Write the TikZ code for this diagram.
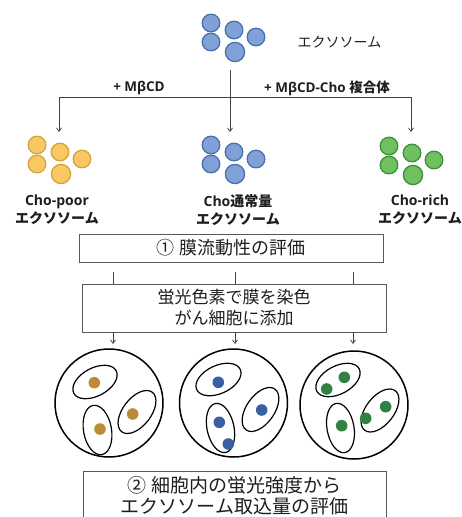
\documentclass[tikz,border=0pt]{standalone}
\usepackage{fontspec}
\setmainfont{Open Sans}
\newfontfamily\jp{Noto Sans CJK JP}
\usetikzlibrary{arrows.meta}

\definecolor{ylwfill}{HTML}{F8C962}
\definecolor{ylwdraw}{HTML}{D9A23E}
\definecolor{blufill}{HTML}{7FA1D7}
\definecolor{bludraw}{HTML}{4A70AC}
\definecolor{grnfill}{HTML}{70C060}
\definecolor{grndraw}{HTML}{3C8F3C}
\definecolor{ylwdot}{HTML}{BD8B35}
\definecolor{bludot}{HTML}{3C5FA2}
\definecolor{grndot}{HTML}{2F8242}
\definecolor{ink}{HTML}{1E1E1E}

% a group of five vesicles: name, centre x, centre y, colour prefix
\newcommand\vcluster[4]{%
  \foreach \k/\dx/\dy/\d in {1/-23/-14/17.6, 2/0/-7/17.6, 3/-23/5/17.6, 4/22/0/17.6, 5/1/15/19.2}
    \node[vesicle, fill=#4fill, draw=#4draw, minimum size=\d*1pt] (#1-\k) at ({#2+(\dx)}, {#3+(\dy)}) {};
}

\begin{document}
\begin{tikzpicture}[x=1pt, y=-1pt,
  vesicle/.style={circle, inner sep=0pt, line width=1.3pt},
  link/.style={draw=ink!85, line width=0.7pt},
  tip/.style={-{Straight Barb[length=3.5pt,width=5pt]}},
  stepbox/.style={draw=black!65, line width=0.9pt, fill=white, inner sep=0pt},
  lbl/.style={font=\bfseries\fontsize{14}{18}\selectfont, text=ink, align=center, inner sep=0pt},
  cell/.style={circle, draw=black, line width=1.5pt, inner sep=0pt, minimum size=108pt},
  organelle/.style={draw=black, line width=1.2pt},
]
\useasboundingbox (0,0) rectangle (462,517);
\clip (0,0) rectangle (462,517);

% exosome groups
\vcluster{src}{234}{37}{blu}
\vcluster{poor}{60}{159}{ylw}
\vcluster{norm}{234}{159}{blu}
\vcluster{rich}{412}{160}{grn}

\node[font=\jp\fontsize{14}{18}\selectfont, text=ink, inner sep=0pt] (src-name) at (339.5,42) {エクソソーム};

% treatment branches
\coordinate (src-foot) at (230,70);
\coordinate (fork) at (230,97);
\coordinate (fork-l) at (59,97);
\coordinate (fork-r) at (411,97);
\coordinate (poor-head) at (59,132);
\coordinate (norm-head) at (230,132);
\coordinate (rich-head) at (411,132);
\draw[link] (fork-l) -- (fork-r);
\draw[link, tip] (src-foot) -- (norm-head);
\draw[link, tip] (fork-l) -- (poor-head);
\draw[link, tip] (fork-r) -- (rich-head);

\node[font=\bfseries\fontsize{13.5}{16}\selectfont, text=ink, inner sep=0pt] (add-cd) at (139,88) {+ MβCD};
\node[font=\bfseries\fontsize{13.5}{16}\selectfont, text=ink, inner sep=0pt] (add-cho) at (327,88) {+ MβCD-Cho {\jp 複合体}};

% group names
\node[lbl] (poor-name) at (57,210) {Cho-poor\\{\jp エクソソーム}};
\node[lbl] (norm-name) at (238,210) {Cho{\jp 通常量}\\{\jp エクソソーム}};
\node[lbl] (rich-name) at (420,210) {Cho-rich\\{\jp エクソソーム}};

% step 1
\node[stepbox, minimum width=304pt, minimum height=28pt, font=\jp\fontsize{18}{22}\selectfont, text=ink] (fluid) at (231,248) {① 膜流動性の評価};

% staining step
\node[stepbox, minimum width=304pt, minimum height=48pt, align=center, font=\jp\fontsize{17}{21}\selectfont, text=ink] (stain) at (234,308) {蛍光色素で膜を染色\\がん細胞に添加};

\foreach \n/\xx in {a/113, b/235, c/353} {
  \coordinate (feed-\n) at (\xx,272);
  \draw[link] (feed-\n) -- (feed-\n |- stain.north);
  \coordinate (drop-\n) at (\xx,344);
  \draw[link, tip] (drop-\n |- stain.south) -- (drop-\n);
}

% cells with internalised exosomes
\node[cell] (cell-poor) at (109,403) {};
\node[cell] (cell-norm) at (233.5,403) {};
\node[cell] (cell-rich) at (354,405) {};

% cell 1
\draw[organelle, rotate around={28:(95,382)}] (95,382) ellipse [x radius=24, y radius=14];
\draw[organelle, rotate around={10:(97.5,430)}] (97.5,430) ellipse [x radius=14, y radius=25];
\draw[organelle, rotate around={52:(137,412)}] (137,412) ellipse [x radius=25, y radius=14];
\fill[ylwdot] (94.3,382.7) circle [radius=5.8];
\fill[ylwdot] (100,429) circle [radius=5.8];
\fill[ylwdot] (132.7,414) circle [radius=5.8];

% cell 2
\draw[organelle, rotate around={25:(218.5,379.5)}] (218.5,379.5) ellipse [x radius=24, y radius=14];
\draw[organelle, rotate around={12:(220.5,428)}] (220.5,428) ellipse [x radius=13.5, y radius=25];
\draw[organelle, rotate around={55:(260.5,409.5)}] (260.5,409.5) ellipse [x radius=25, y radius=14];
\fill[bludot] (218.3,382.3) circle [radius=5.8];
\fill[bludot] (219.3,422.3) circle [radius=5.8];
\fill[bludot] (228.3,444) circle [radius=5.8];
\fill[bludot] (261.7,410) circle [radius=5.8];

% cell 3
\draw[organelle, rotate around={28:(338,380)}] (338,380) ellipse [x radius=24, y radius=14];
\draw[organelle, rotate around={10:(340.5,428)}] (340.5,428) ellipse [x radius=13.5, y radius=25];
\draw[organelle, rotate around={52:(380,410.5)}] (380,410.5) ellipse [x radius=25, y radius=14];
\fill[grndot] (326.7,389) circle [radius=5.8];
\fill[grndot] (344.3,377.3) circle [radius=5.8];
\fill[grndot] (341.7,425.7) circle [radius=5.8];
\fill[grndot] (385.7,406.7) circle [radius=5.8];
\fill[grndot] (365.7,418.3) circle [radius=5.8];

% step 2
\node[stepbox, minimum width=303pt, minimum height=69pt] (uptake) at (234.5,505.5) {};
\node[font=\jp\fontsize{19}{21}\selectfont, text=ink, align=center, inner sep=0pt] (uptake-text) at (234.5,496) {② 細胞内の蛍光強度から\\エクソソーム取込量の評価};
\end{tikzpicture}
\end{document}
